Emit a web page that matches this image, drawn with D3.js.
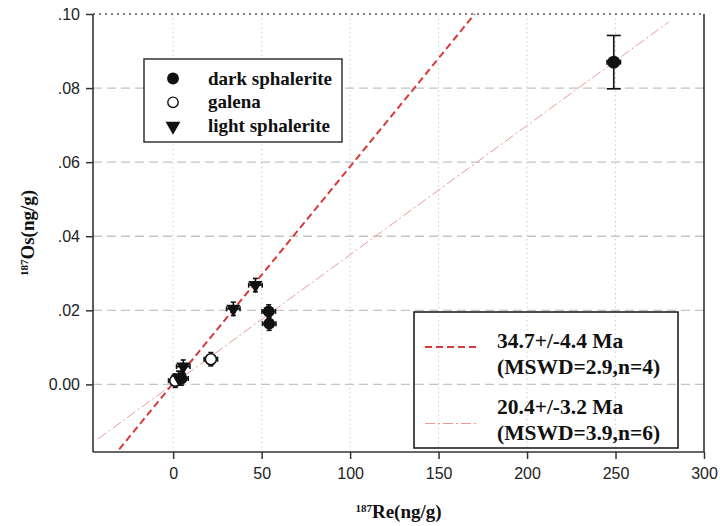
<!DOCTYPE html>
<html>
<head>
<meta charset="utf-8">
<script src="https://cdn.jsdelivr.net/npm/d3@7"></script>
<style>
  body { margin: 0; background: #fff; }
  svg { display: block; }
  .tick text { font-family: "Liberation Sans", Arial, sans-serif; font-size: 16px; fill: #222; }
  .serif { font-family: "Liberation Serif", "Times New Roman", serif; font-weight: bold; fill: #111; }
</style>
</head>
<body>
<div id="chart"></div>
<script>
// data
const darkX = [249, 54, 54.3, 4.7];
const darkY = [0.087, 0.0197, 0.0164, 0.0016];
const darkYErr = [0.0072, 0.0018, 0.0018, 0.0018];

const galenaX = [21.3, 1.2];
const galenaY = [0.0068, 0.0010];

const lightX = [46.5, 34, 5.7, 3.0];
const lightY = [0.0268, 0.0204, 0.0048, 0.0018];

const xErr = 3.8; // small whiskers that give the markers their spiky look
const yErr = 0.0018;

const xTicks = [0, 50, 100, 150, 200, 250, 300];
const yTicks = [0, 0.02, 0.04, 0.06, 0.08, 0.10];
const yTickLabels = ["0.00", ".02", ".04", ".06", ".08", ".10"];

// isochron lines: slope, intercept, x range
const iso1 = { slope: 0.000585, icept: 0.0003, x0: -30.5, x1: 170.4 };
const iso2 = { slope: 0.000349, icept: 0.0001, x0: -42.4, x1: 280 };

const legendSeries = ["dark sphalerite", "galena", "light sphalerite"];
const legendIso = [["34.7+/-4.4 Ma", "(MSWD=2.9,n=4)"], ["20.4+/-3.2 Ma", "(MSWD=3.9,n=6)"]];

const width = 720, height = 526;
const margin = { left: 93, right: 16, top: 14, bottom: 74 };

const svg = d3.select("#chart").append("svg")
    .attr("width", width)
    .attr("height", height);

const x = d3.scaleLinear().domain([-45.3, 300]).range([margin.left, width - margin.right]);
const y = d3.scaleLinear().domain([-0.01825, 0.10]).range([height - margin.bottom, margin.top]);

// grid
svg.append("g").selectAll("line")
    .data(xTicks.filter(d => d < 300))
    .enter().append("line")
    .attr("x1", d => x(d)).attr("x2", d => x(d))
    .attr("y1", y.range()[0]).attr("y2", y.range()[1])
    .attr("stroke", "#cfcfcf").attr("stroke-width", 1).attr("stroke-dasharray", "1.5,3");

svg.append("g").selectAll("line")
    .data(yTicks.filter(d => d < 0.1))
    .enter().append("line")
    .attr("x1", x.range()[0]).attr("x2", x.range()[1])
    .attr("y1", d => y(d)).attr("y2", d => y(d))
    .attr("stroke", "#c4c4c4").attr("stroke-width", 1.3).attr("stroke-dasharray", "9,5");

// top border dotted
svg.append("line")
    .attr("x1", x.range()[0]).attr("x2", x.range()[1])
    .attr("y1", y(0.10)).attr("y2", y(0.10))
    .attr("stroke", "#555").attr("stroke-width", 1.5).attr("stroke-dasharray", "2,4");

// isochron lines
const line = d3.line().x(d => x(d[0])).y(d => y(d[1]));
svg.append("path")
    .attr("d", line([[iso2.x0, iso2.icept + iso2.slope * iso2.x0], [iso2.x1, iso2.icept + iso2.slope * iso2.x1]]))
    .attr("fill", "none").attr("stroke", "#ec9a9a").attr("stroke-width", 1)
    .attr("stroke-dasharray", "10,3,2,3");
svg.append("path")
    .attr("d", line([[iso1.x0, iso1.icept + iso1.slope * iso1.x0], [iso1.x1, iso1.icept + iso1.slope * iso1.x1]]))
    .attr("fill", "none").attr("stroke", "#d63a3a").attr("stroke-width", 2)
    .attr("stroke-dasharray", "7,4");

// axes
const xAxis = d3.axisBottom(x).tickValues(xTicks).tickSize(7).tickPadding(9);
const yAxis = d3.axisLeft(y).tickValues(yTicks).tickSize(7).tickPadding(6)
    .tickFormat((d, i) => yTickLabels[i]);

const gx = svg.append("g").attr("transform", `translate(0,${y.range()[0]})`).call(xAxis);
const gy = svg.append("g").attr("transform", `translate(${x.range()[0]},0)`).call(yAxis);
[gx, gy].forEach(g => {
    g.select(".domain").attr("stroke", "#333").attr("stroke-width", 1.6);
    g.selectAll(".tick line").attr("stroke", "#333").attr("stroke-width", 1.5);
});
gx.select(".domain").attr("d", `M${x.range()[0]},0H${x.range()[1]}`);
gy.select(".domain").attr("d", `M0,${y.range()[0]}V${y.range()[1]}`);
svg.append("line")
    .attr("x1", x.range()[1]).attr("x2", x.range()[1])
    .attr("y1", y.range()[0]).attr("y2", y.range()[1])
    .attr("stroke", "#333").attr("stroke-width", 1.6);

// error whiskers
function whiskers(xs, ys, yerrs) {
    const g = svg.append("g").attr("stroke", "#111").attr("stroke-width", 1.6);
    xs.forEach((xv, i) => {
        const ye = yerrs ? yerrs[i] : yErr;
        const big = ye > 0.003;
        const cx = x(xv), cy = y(ys[i]);
        const cap = big ? 7 : 2.5;
        g.append("line").attr("x1", cx).attr("x2", cx).attr("y1", y(ys[i] - ye)).attr("y2", y(ys[i] + ye));
        g.append("line").attr("x1", cx - cap).attr("x2", cx + cap).attr("y1", y(ys[i] - ye)).attr("y2", y(ys[i] - ye));
        g.append("line").attr("x1", cx - cap).attr("x2", cx + cap).attr("y1", y(ys[i] + ye)).attr("y2", y(ys[i] + ye));
        g.append("line").attr("x1", x(xv - xErr)).attr("x2", x(xv + xErr)).attr("y1", cy).attr("y2", cy);
        g.append("line").attr("x1", x(xv - xErr)).attr("x2", x(xv - xErr)).attr("y1", cy - 2.5).attr("y2", cy + 2.5);
        g.append("line").attr("x1", x(xv + xErr)).attr("x2", x(xv + xErr)).attr("y1", cy - 2.5).attr("y2", cy + 2.5);
    });
}
whiskers(galenaX, galenaY, null);
whiskers(lightX, lightY, null);
whiskers(darkX, darkY, darkYErr);

const circle = d3.symbol().type(d3.symbolCircle).size(95);
const tri = d3.symbol().type(d3.symbolTriangle).size(85);

svg.append("g").selectAll("path")
    .data(galenaX.map((d, i) => [d, galenaY[i]]))
    .enter().append("path")
    .attr("d", circle)
    .attr("transform", d => `translate(${x(d[0])},${y(d[1])})`)
    .attr("fill", "#fff").attr("stroke", "#111").attr("stroke-width", 1.6);

svg.append("g").selectAll("path")
    .data(lightX.map((d, i) => [d, lightY[i]]))
    .enter().append("path")
    .attr("d", tri)
    .attr("transform", d => `translate(${x(d[0])},${y(d[1])}) rotate(180)`)
    .attr("fill", "#111");

svg.append("g").selectAll("path")
    .data(darkX.map((d, i) => [d, darkY[i]]))
    .enter().append("path")
    .attr("d", (d, i) => d3.symbol().type(d3.symbolCircle).size(i === 0 ? 130 : 110)())
    .attr("transform", d => `translate(${x(d[0])},${y(d[1])})`)
    .attr("fill", "#111");

// legend 1 (symbols)
const lg1 = svg.append("g").attr("transform", "translate(144,59)");
lg1.append("rect").attr("width", 198).attr("height", 83)
    .attr("fill", "#fff").attr("stroke", "#333").attr("stroke-width", 1.5);
const lgSyms = [
    g => g.append("path").attr("d", d3.symbol().type(d3.symbolCircle).size(110)()).attr("fill", "#111"),
    g => g.append("path").attr("d", d3.symbol().type(d3.symbolCircle).size(85)()).attr("fill", "#fff").attr("stroke", "#111").attr("stroke-width", 1.4),
    g => g.append("path").attr("d", d3.symbol().type(d3.symbolTriangle).size(95)()).attr("transform", "rotate(180)").attr("fill", "#111")
];
legendSeries.forEach((name, i) => {
    const row = lg1.append("g").attr("transform", `translate(29,${19.5 + i * 23.8})`);
    lgSyms[i](row);
    row.append("text").attr("class", "serif").attr("x", 35).attr("y", 6)
        .style("font-size", "19px").text(name);
});

// legend 2 (isochrons)
const lg2 = svg.append("g").attr("transform", "translate(414,312)");
lg2.append("rect").attr("width", 264).attr("height", 136)
    .attr("fill", "none").attr("stroke", "#222").attr("stroke-width", 1.6);
lg2.append("line").attr("x1", 11).attr("x2", 62).attr("y1", 35).attr("y2", 35)
    .attr("stroke", "#d63a3a").attr("stroke-width", 2).attr("stroke-dasharray", "7,4");
lg2.append("line").attr("x1", 11).attr("x2", 62).attr("y1", 111.5).attr("y2", 111.5)
    .attr("stroke", "#ec9a9a").attr("stroke-width", 1).attr("stroke-dasharray", "10,3,2,3");
legendIso.forEach((lines, i) => {
    lines.forEach((t, j) => {
        lg2.append("text").attr("class", "serif").attr("x", 83)
            .attr("y", 36 + i * 66 + j * 25.5)
            .style("font-size", "21.5px").text(t);
    });
});

// axis titles
const xt = svg.append("text").attr("class", "serif")
    .attr("x", (x.range()[0] + x.range()[1]) / 2).attr("y", 518)
    .attr("text-anchor", "middle").style("font-size", "19px");
xt.append("tspan").attr("baseline-shift", "super").style("font-size", "11px").text("187");
xt.append("tspan").text("Re(ng/g)");

const yt = svg.append("text").attr("class", "serif")
    .attr("transform", `translate(34,${(y.range()[0] + y.range()[1]) / 2}) rotate(-90)`)
    .attr("text-anchor", "middle").style("font-size", "19px");
yt.append("tspan").attr("baseline-shift", "super").style("font-size", "11px").text("187");
yt.append("tspan").text("Os(ng/g)");
</script>
</body>
</html>
